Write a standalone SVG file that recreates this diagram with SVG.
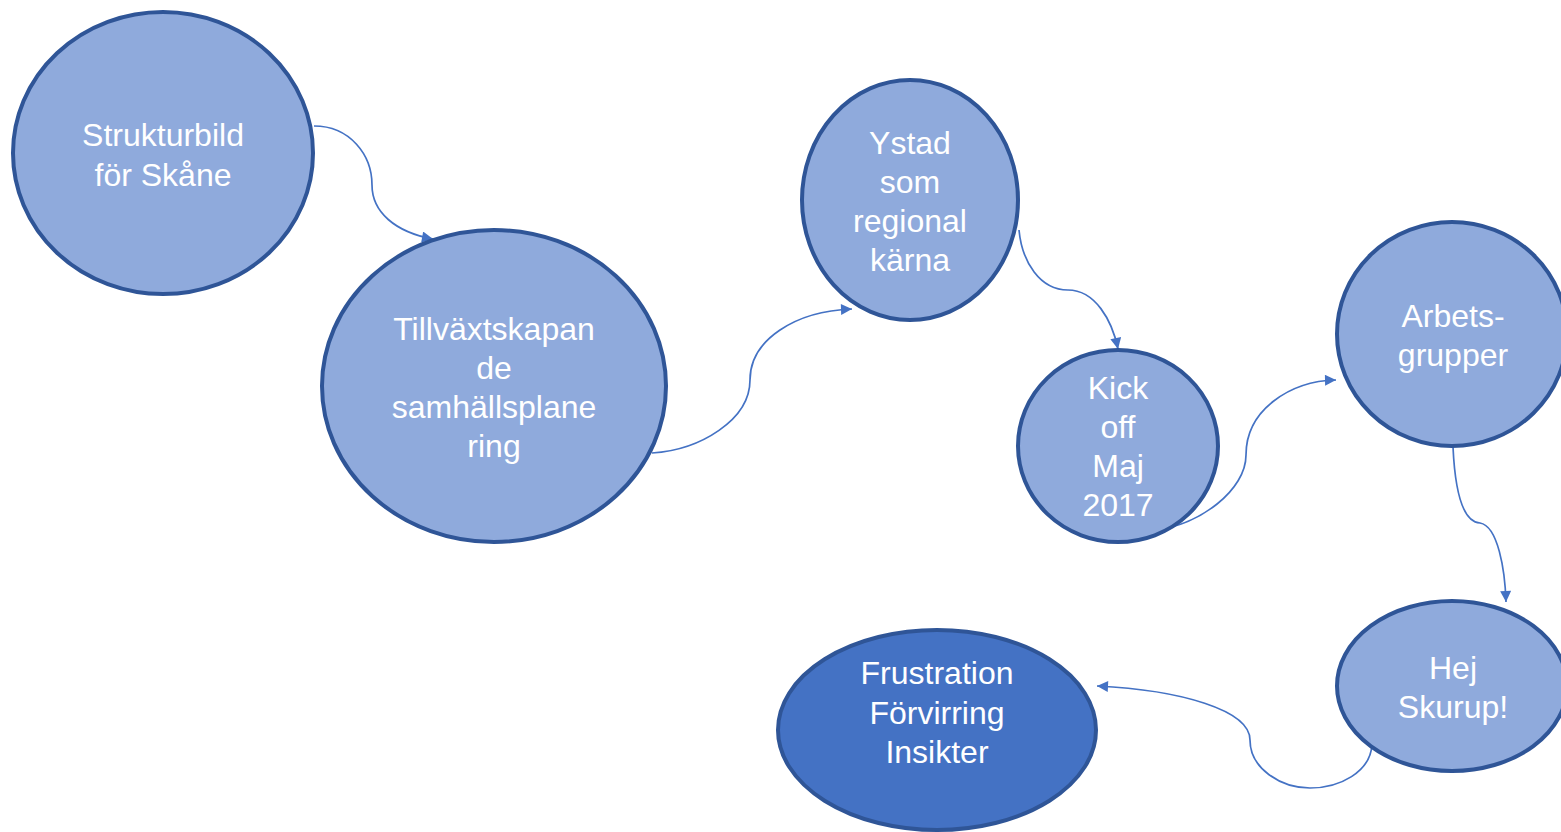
<svg xmlns="http://www.w3.org/2000/svg" width="1561" height="832" viewBox="0 0 1561 832">
<style>
.n{fill:#8FAADC;stroke:#2F5597;stroke-width:4}
.d{fill:#4472C4;stroke:#2F5597;stroke-width:4}
.t{fill:#FFFFFF;font-family:"Liberation Sans",Arial,sans-serif;font-size:32px;text-anchor:middle}
.c{fill:none;stroke:#4472C4;stroke-width:1.7;marker-end:url(#ah)}
</style>
<defs>
<marker id="ah" viewBox="0 0 10 10" refX="10" refY="5" markerWidth="13" markerHeight="11" markerUnits="userSpaceOnUse" orient="auto">
<path d="M0,0 L10,5 L0,10 Z" fill="#4472C4"/>
</marker>
</defs>
<rect width="1561" height="832" fill="#FFFFFF"/>
<g id="connectors">
<path class="c" d="M314,126 C350,126 372,155 372,185 C372,212 395,232 433,239"/>
<path class="c" d="M652,453 C700,450 750,420 750,380 C750,340 795,311 852,309"/>
<path class="c" d="M1019,230 C1022,262 1040,290 1068,290 C1095,290 1112,320 1118,349"/>
<path class="c" d="M1155,530 C1200,525 1246,490 1246,455 C1246,410 1290,381 1336,380"/>
<path class="c" d="M1453,447 C1455,490 1462,522 1480,523 C1498,526 1505,570 1506,602"/>
<path class="c" d="M1372,745 C1370,772 1340,788 1310,788 C1280,788 1250,768 1250,740 C1250,710 1180,690 1097,686"/>
</g>
<g id="node-strukturbild">
<ellipse class="n" cx="163" cy="153" rx="150" ry="141"/>
<text class="t" x="163" y="146">Strukturbild</text>
<text class="t" x="163" y="186">för Skåne</text>
</g>
<g id="node-tillvaxt">
<ellipse class="n" cx="494" cy="386" rx="172" ry="156"/>
<text class="t" x="494" y="340">Tillväxtskapan</text>
<text class="t" x="494" y="379">de</text>
<text class="t" x="494" y="418">samhällsplane</text>
<text class="t" x="494" y="457">ring</text>
</g>
<g id="node-ystad">
<ellipse class="n" cx="910" cy="200" rx="108" ry="120"/>
<text class="t" x="910" y="154">Ystad</text>
<text class="t" x="910" y="193">som</text>
<text class="t" x="910" y="232">regional</text>
<text class="t" x="910" y="271">kärna</text>
</g>
<g id="node-kickoff">
<ellipse class="n" cx="1118" cy="446" rx="100" ry="96"/>
<text class="t" x="1118" y="399">Kick</text>
<text class="t" x="1118" y="438">off</text>
<text class="t" x="1118" y="477">Maj</text>
<text class="t" x="1118" y="516">2017</text>
</g>
<g id="node-arbets">
<ellipse class="n" cx="1452" cy="334" rx="115" ry="112"/>
<text class="t" x="1453" y="327">Arbets-</text>
<text class="t" x="1453" y="366">grupper</text>
</g>
<g id="node-hej">
<ellipse class="n" cx="1452" cy="686" rx="115" ry="85"/>
<text class="t" x="1453" y="679">Hej</text>
<text class="t" x="1453" y="718">Skurup!</text>
</g>
<g id="node-frustration">
<ellipse class="d" cx="937" cy="730" rx="159" ry="100"/>
<text class="t" x="937" y="684">Frustration</text>
<text class="t" x="937" y="724">Förvirring</text>
<text class="t" x="937" y="763">Insikter</text>
</g>
</svg>
